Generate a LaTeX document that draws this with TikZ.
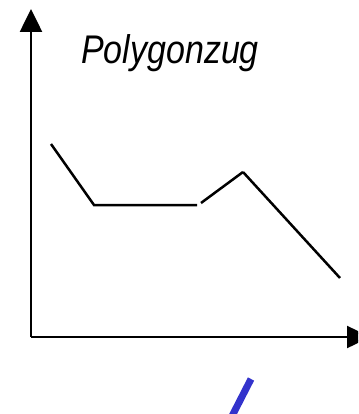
\documentclass[tikz,border=0pt]{standalone}
\usepackage{fontspec}
\setmainfont{Liberation Sans}
\usetikzlibrary{arrows.meta}
\definecolor{lineblue}{RGB}{51,51,204}
\tikzset{
  axis/.style={line width=2.6pt,-{Triangle[width=22pt,length=23pt]}},
  poly/.style={line width=2.5pt,line cap=butt,line join=miter},
  mark/.style={}
}
\begin{document}
\begin{tikzpicture}[x=1pt,y=-1pt]
\useasboundingbox (0,0) rectangle (358,414);
\clip (0,0) rectangle (358,414);
\coordinate (o) at (31,337);
\coordinate (ytip) at (31,9);
\coordinate (xtip) at (370,337);
\draw[axis] (o) -- (ytip);
\draw[axis] (o) -- (xtip);
\coordinate (p1) at (51,144);
\coordinate (p2) at (94,205);
\coordinate (p3) at (197,205);
\coordinate (p4) at (201,203);
\coordinate (p5) at (243,172);
\coordinate (p6) at (340,278);
\draw[poly] (p1) -- (p2) -- (p3);
\draw[poly] (p4) -- (p5);
\draw[poly] (p5) -- (p6);
\node[anchor=base west,inner sep=0pt,font=\fontsize{40}{44}\selectfont\itshape,xscale=0.85] (title) at (81,64) {Polygonzug};
\coordinate (b1) at (251,379);
\coordinate (b2) at (230,420);
\draw[line width=7pt,lineblue] (b1) -- (b2);
\end{tikzpicture}
\end{document}
